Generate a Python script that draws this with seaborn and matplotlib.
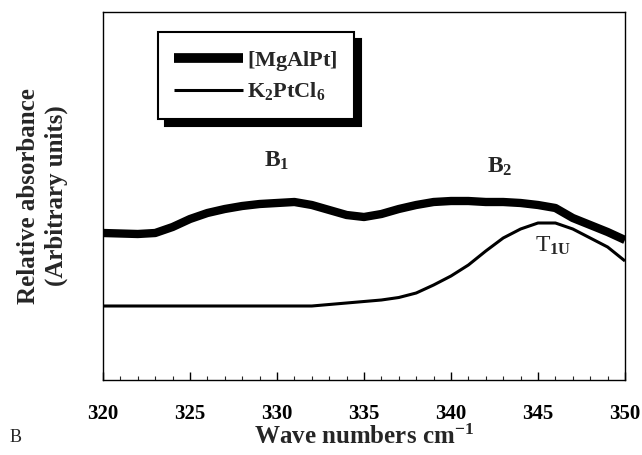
import matplotlib
matplotlib.use("Agg")
import matplotlib.pyplot as plt
import seaborn as sns
import pandas as pd
from matplotlib.ticker import MultipleLocator

# ---- data (arbitrary absorbance units) ----
wavenumber = [320, 321, 322, 323, 324, 325, 326, 327, 328, 329, 330, 331, 332, 333, 334, 335,
              336, 337, 338, 339, 340, 341, 342, 343, 344, 345, 346, 347, 348, 349, 350]
mgalpt = [147, 146.5, 146, 147, 153, 161, 167, 171, 174, 176, 177, 178, 175, 170, 165, 163,
          166, 171, 175, 178, 179, 179, 178, 178, 177, 175, 172, 162, 155, 148, 140]
k2ptcl6 = [74, 74, 74, 74, 74, 74, 74, 74, 74, 74, 74, 74, 74, 75.5, 77, 78.5,
           80, 82.5, 87, 95, 104, 115, 129, 142, 151, 157, 157, 151, 142, 133, 119]
series_labels = [r"$\mathbf{[MgAlPt]}$", r"$\mathbf{K_2PtCl_6}$"]
xticks = [320, 325, 330, 335, 340, 345, 350]

sns.set_style("ticks")
plt.rcParams["font.family"] = ["Liberation Serif", "DejaVu Serif"]
plt.rcParams["mathtext.fontset"] = "custom"
plt.rcParams["mathtext.rm"] = "Liberation Serif"
plt.rcParams["mathtext.bf"] = "Liberation Serif:bold"
plt.rcParams["mathtext.it"] = "Liberation Serif:italic"

df = pd.DataFrame({"x": wavenumber, "MgAlPt": mgalpt, "K2PtCl6": k2ptcl6})

fig = plt.figure(figsize=(6.42, 4.55), dpi=100)
ax = fig.add_axes([103 / 642, 75 / 455, 522 / 642, 368 / 455])

sns.lineplot(data=df, x="x", y="MgAlPt", ax=ax, color="black", linewidth=6.0,
             label=series_labels[0], solid_capstyle="butt")
sns.lineplot(data=df, x="x", y="K2PtCl6", ax=ax, color="black", linewidth=2.2,
             label=series_labels[1], solid_capstyle="butt")

ax.set_xlim(320, 350)
ax.set_ylim(0, 368)
ax.set_xticks(xticks)
ax.xaxis.set_minor_locator(MultipleLocator(1))
ax.set_yticks([])
ax.tick_params(axis="x", which="major", direction="in", length=6, width=1,
               labelsize=15, pad=17, colors="black")
ax.tick_params(axis="x", which="minor", direction="in", length=3, width=0.8)
for lab in ax.get_xticklabels():
    lab.set_fontweight("bold")
for sp in ax.spines.values():
    sp.set_visible(True)
    sp.set_color("black")
    sp.set_linewidth(1.0)

ax.set_xlabel(r"Wave numbers cm$^{\mathbf{-1}}$", fontsize=18, fontweight="bold", labelpad=1)
ax.set_ylabel("Relative absorbance\n(Arbitrary units)", fontsize=18, fontweight="bold",
              linespacing=1.25)
ax.yaxis.set_label_coords(-0.068, 0.5)

leg = ax.legend(loc="upper left", bbox_to_anchor=(0.105, 0.946), fontsize=16,
                frameon=True, fancybox=False, edgecolor="black", framealpha=1,
                handlelength=3.1, handletextpad=0.15, labelspacing=0.35,
                borderpad=0.75, borderaxespad=0,
                shadow={"ox": 5, "oy": -5, "color": "black", "alpha": 1})
leg.get_frame().set_linewidth(1.5)
leg.get_lines()[0].set_linewidth(7)
leg.get_lines()[1].set_linewidth(2.2)

ax.text(329.25, 213, r"$\mathbf{B_1}$", fontsize=17, ha="left", va="baseline")
ax.text(342.07, 207, r"$\mathbf{B_2}$", fontsize=17, ha="left", va="baseline")
ax.text(344.83, 128, r"$\mathrm{T}_{\mathbf{1U}}$", fontsize=17, ha="left", va="baseline")

fig.text(10 / 642, 1 - 437 / 455, "B", fontsize=13, va="center", ha="left")

fig.savefig("out.png", dpi=100)
